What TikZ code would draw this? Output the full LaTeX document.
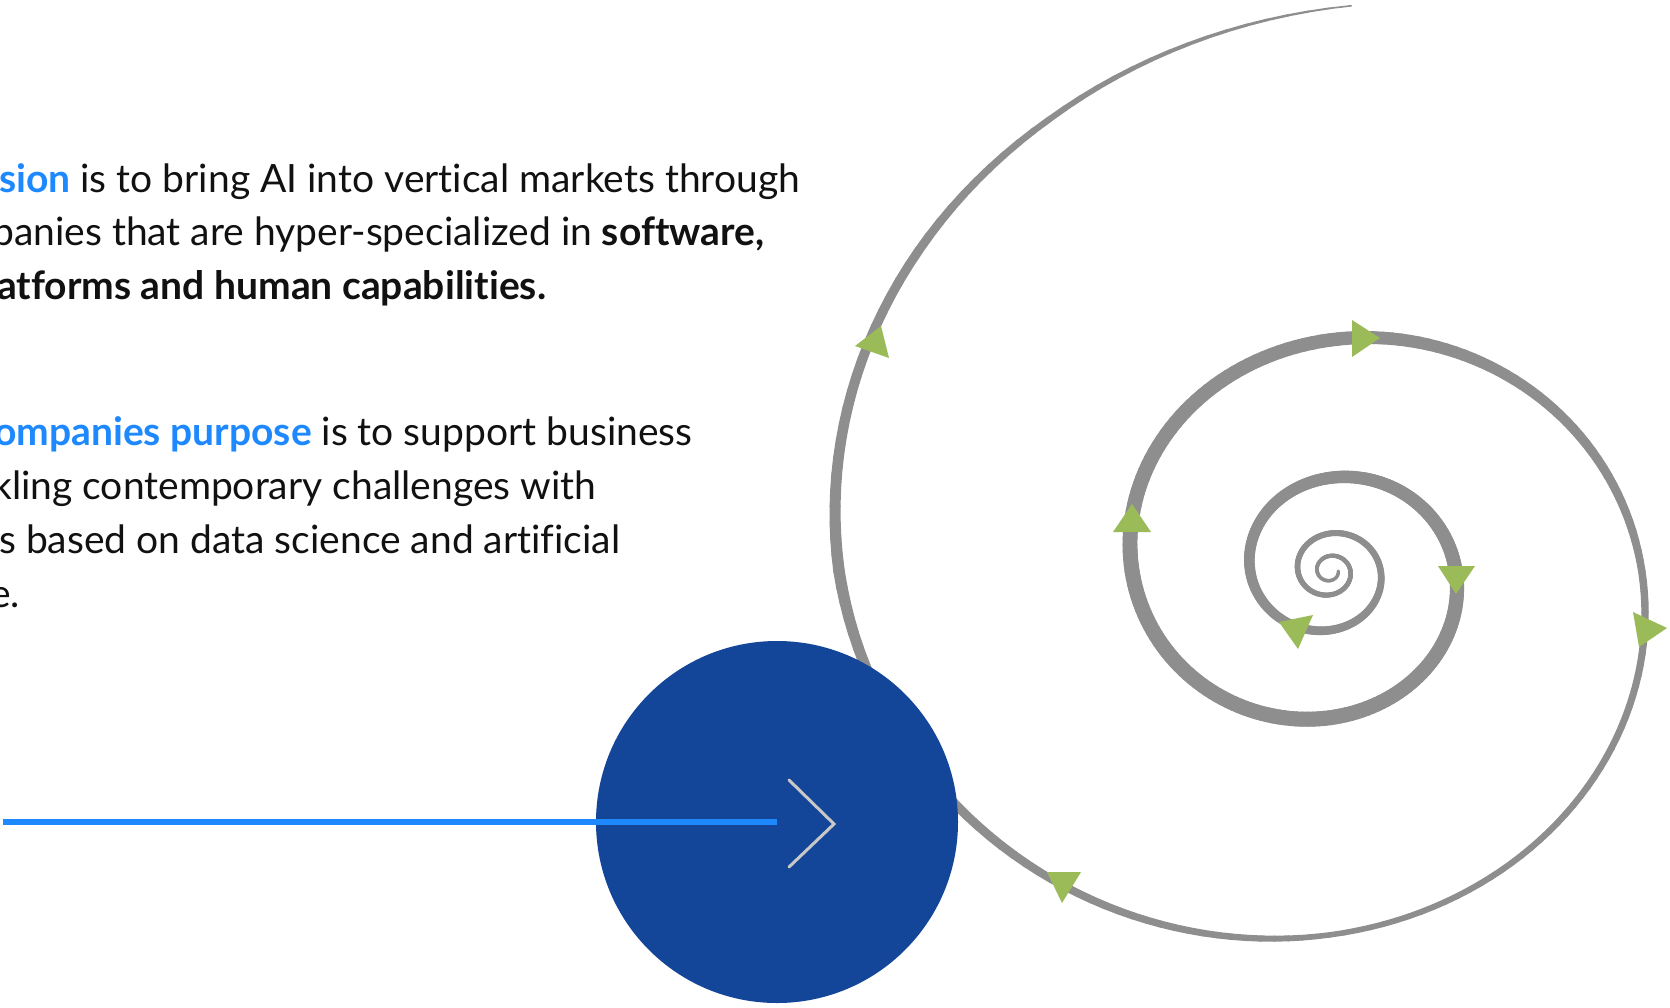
\documentclass[tikz,border=0pt]{standalone}
\usepackage{fontspec}
\setmainfont{Lato}[Ligatures=NoCommon]
\definecolor{accent}{RGB}{30,136,255}
\definecolor{navy}{RGB}{19,69,152}
\definecolor{spgray}{RGB}{142,142,142}
\definecolor{leaf}{RGB}{155,187,89}
\definecolor{chev}{RGB}{200,200,200}
\definecolor{ink}{RGB}{17,17,17}

\pgfmathdeclarefunction{spr}{1}{%
  \begingroup
  \pgfmathparse{125.7*exp(0.2271*(#1-1080)/90)*(1-0.018*min(1,max(0,(#1-1620)/60)))}%
  \pgfmathsmuggle\pgfmathresult
  \endgroup}

\newcommand\spiralpart[4]{%
  \pgfmathtruncatemacro\spA{#1}%
  \pgfmathtruncatemacro\spB{#1+2}%
  \pgfmathtruncatemacro\spE{#2-2}%
  \foreach \a in {\spA,\spB,...,\spE}{%
    \pgfmathsetmacro\w{#3+(#4-#3)*(\a+1-#1)/(#2-#1)}%
    \draw[spiralstroke, line width=\w pt]
      ({1330+spr(\a)*cos(\a)},{571+0.93*spr(\a)*sin(\a)}) --
      ({1330+spr(\a+2)*cos(\a+2)},{571+0.93*spr(\a+2)*sin(\a+2)});
  }}

\begin{document}
\begin{tikzpicture}[x=1pt,y=-1pt,
  txt/.style={anchor=base west, inner sep=0pt, font=\fontsize{39}{53}\selectfont, text=ink},
  spiralstroke/.style={draw=spgray, line cap=round},
  tri/.style={fill=leaf},
  disc/.style={circle, fill=navy, inner sep=0pt, minimum size=362pt},
  bar/.style={draw=accent, line width=6pt},
  chevron/.style={draw=chev, line width=3pt, line cap=round, line join=miter}]
\useasboundingbox[fill=white] (0,0) rectangle (1670,1007);

% spiral
\spiralpart{0}{360}{3}{4.5}
\spiralpart{360}{720}{4.5}{6.5}
\spiralpart{720}{900}{6.5}{10.5}
\spiralpart{900}{1080}{10.5}{14}
\spiralpart{1080}{1170}{14}{15}
\spiralpart{1170}{1260}{15}{15}
\spiralpart{1260}{1350}{15}{13.5}
\spiralpart{1350}{1440}{13.5}{7.5}
\spiralpart{1440}{1530}{7.5}{5.5}
\spiralpart{1530}{1620}{5.5}{11.5}
\spiralpart{1620}{1660}{11.5}{9}
\spiralpart{1660}{1712}{9}{1.5}

% green arrowheads
\fill[tri] (881,326) -- (855,346) -- (889,358) -- cycle;
\fill[tri] (1352,320) -- (1352,357) -- (1380,338) -- cycle;
\fill[tri] (1132,504) -- (1113,532) -- (1151,532) -- cycle;
\fill[tri] (1438,566) -- (1475,566) -- (1456,594) -- cycle;
\fill[tri] (1279,622) -- (1313,615) -- (1298,649) -- cycle;
\fill[tri] (1633,612) -- (1639,647) -- (1667,628) -- cycle;
\fill[tri] (1047,872) -- (1081,872) -- (1062,903) -- cycle;

% circle, bar and chevron
\node[disc] (disc) at (777,822) {};
\coordinate (barstart) at (3,822);
\draw[bar] (barstart) -- (disc.center);
\coordinate (c1) at (789,780);
\coordinate (c2) at (834,824);
\coordinate (c3) at (789,867);
\draw[chevron] (c1) -- (c2) -- (c3);

% text
\node[txt] (l1) at (-1,192) {\textbf{\color{accent}sion} is to bring AI into vertical markets through};
\node[txt] (l2) at (-8,245) {panies that are hyper-specialized in \textbf{software,}};
\node[txt] (l3) at (-3,299) {\textbf{atforms and human capabilities.}};
\node[txt] (l4) at (-6,445) {\textbf{\color{accent}ompanies purpose} is to support business};
\node[txt] (l5) at (-8,499) {kling contemporary challenges with};
\node[txt] (l6) at (-1,553) {s based on data science and artificial};
\node[txt] (l7) at (-10,607) {e.};
\end{tikzpicture}
\end{document}
